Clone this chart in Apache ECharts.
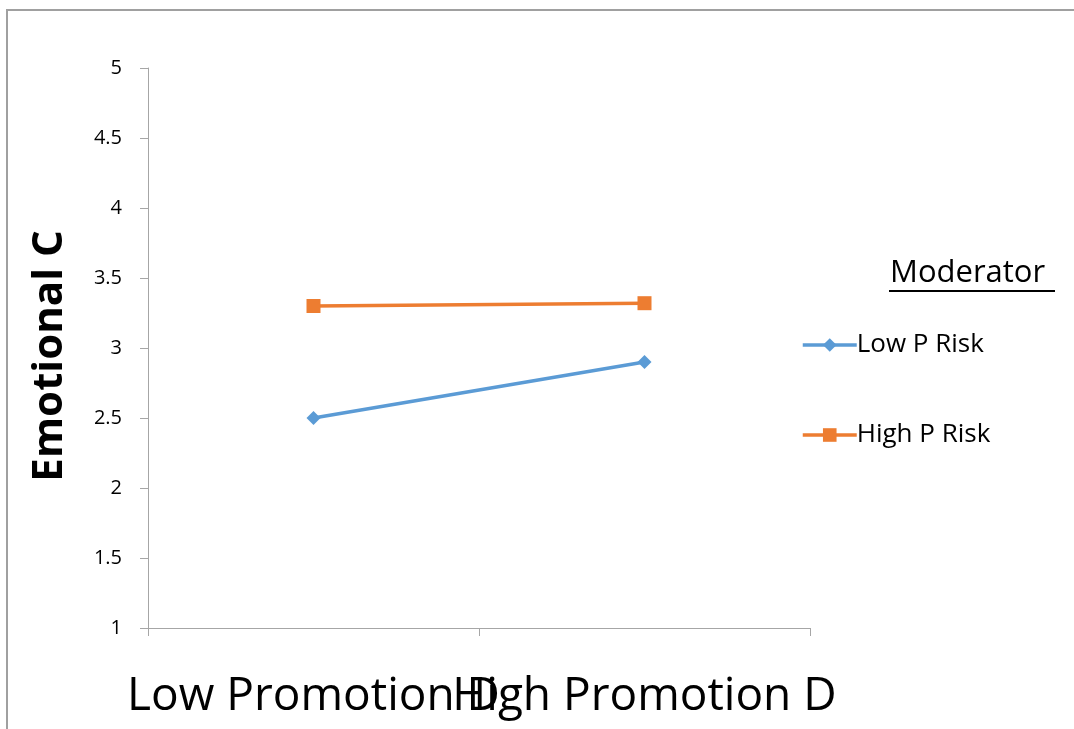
<!DOCTYPE html>
<html>
<head>
<meta charset="utf-8">
<script src="https://cdn.jsdelivr.net/npm/echarts@6/dist/echarts.min.js"></script>
<style>
  html, body { margin: 0; padding: 0; background: #fff; }
  #chart { width: 1074px; height: 729px; }
</style>
</head>
<body>
<div id="chart"></div>
<script>
// Promotion level on x, emotional score on y, one line per moderator group
const categories = ['Low Promotion D', 'High Promotion D'];
const lowPRisk = [2.5, 2.9];
const highPRisk = [3.3, 3.32];
const seriesNames = ['Low P Risk', 'High P Risk'];
const legendTitle = 'Moderator';
const yTitle = 'Emotional C';

const font = '"Open Sans", "Noto Sans", sans-serif';
const chart = echarts.init(document.getElementById('chart'));

const legendLine = { width: 3.5 };

chart.setOption({
  animation: false,
  backgroundColor: '#fff',
  grid: { left: 148, top: 68, right: 264, bottom: 101, containLabel: false },
  xAxis: {
    type: 'category',
    data: categories,
    boundaryGap: true,
    axisLine: { lineStyle: { color: '#a6a6a6', width: 1 } },
    axisTick: { show: true, length: 8, alignWithLabel: false, lineStyle: { color: '#a6a6a6' } },
    axisLabel: { interval: 0, color: '#000', fontFamily: font, fontSize: 46, margin: 46 },
    splitLine: { show: false }
  },
  yAxis: {
    type: 'value',
    min: 1,
    max: 5,
    interval: 0.5,
    axisLine: { show: true, lineStyle: { color: '#a6a6a6', width: 1 } },
    axisTick: { show: true, length: 8, lineStyle: { color: '#a6a6a6' } },
    axisLabel: { color: '#000', fontFamily: font, fontSize: 20, margin: 26 },
    splitLine: { show: false }
  },
  legend: {
    orient: 'vertical',
    left: 796,
    top: 327,
    itemWidth: 54,
    itemHeight: 17,
    itemGap: 64,
    lineStyle: legendLine,
    textStyle: { color: '#000', fontFamily: font, fontSize: 26, padding: [0, 0, 0, -5] },
    data: seriesNames.map(name => ({ name, lineStyle: legendLine }))
  },
  series: [
    {
      name: seriesNames[0],
      type: 'line',
      data: lowPRisk,
      symbol: 'diamond',
      symbolSize: 14,
      lineStyle: { color: '#5b9bd5', width: 3.5 },
      itemStyle: { color: '#5b9bd5' }
    },
    {
      name: seriesNames[1],
      type: 'line',
      data: highPRisk,
      symbol: 'rect',
      symbolSize: 14,
      lineStyle: { color: '#ed7d31', width: 3.5 },
      itemStyle: { color: '#ed7d31' }
    }
  ],
  graphic: [
    {
      type: 'rect',
      shape: { x: 7, y: 10, width: 1200, height: 800 },
      style: { fill: 'none', stroke: '#a0a0a0', lineWidth: 2 },
      silent: true
    },
    {
      type: 'text',
      x: 50,
      y: 356,
      rotation: Math.PI / 2,
      style: {
        text: yTitle, fill: '#000', font: 'bold 42px ' + font,
        align: 'center', verticalAlign: 'middle'
      }
    },
    {
      type: 'text',
      left: 890,
      top: 258,
      style: { text: legendTitle, fill: '#000', font: '31px ' + font }
    },
    {
      type: 'line',
      shape: { x1: 889, y1: 291, x2: 1055, y2: 291 },
      style: { stroke: '#000', lineWidth: 2 }
    }
  ]
});
</script>
</body>
</html>
